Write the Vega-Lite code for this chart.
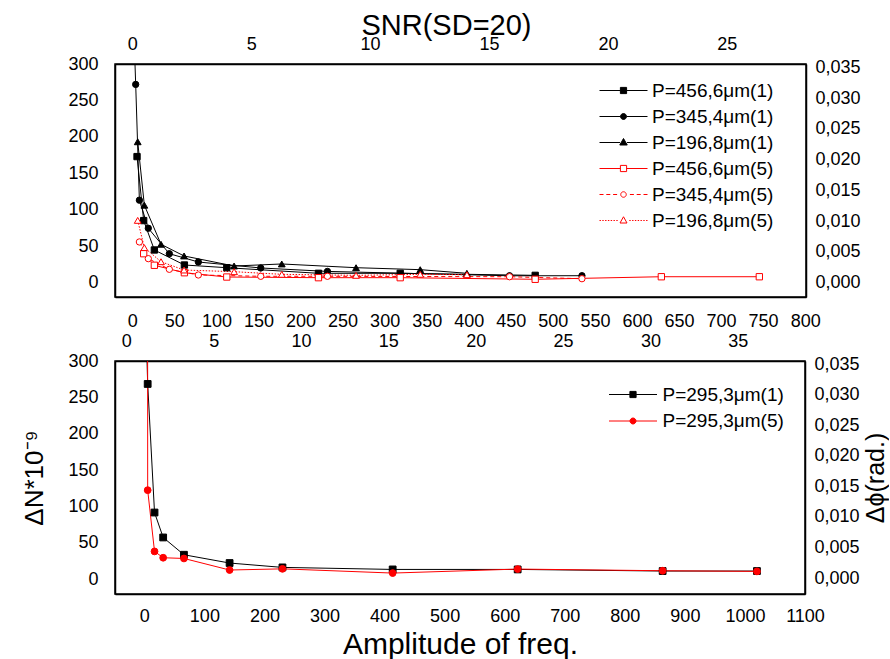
{
  "$schema": "https://vega.github.io/schema/vega-lite/v6.json",
  "background": "white",
  "padding": {"left": 20, "top": 10, "right": 0, "bottom": 0},
  "spacing": 64,
  "bounds": "flush",
  "datasets": {
    "top": [
      {"series": "P=456,6μm(1)", "amp": 5.6, "dn": 173},
      {"series": "P=456,6μm(1)", "amp": 13.5, "dn": 85.2},
      {"series": "P=456,6μm(1)", "amp": 26.2, "dn": 44.9},
      {"series": "P=456,6μm(1)", "amp": 61.9, "dn": 24.3},
      {"series": "P=456,6μm(1)", "amp": 112.3, "dn": 20.6},
      {"series": "P=456,6μm(1)", "amp": 221.3, "dn": 12.9},
      {"series": "P=456,6μm(1)", "amp": 318.5, "dn": 12.9},
      {"series": "P=456,6μm(1)", "amp": 479, "dn": 10.1},
      {"series": "P=345,4μm(1)", "amp": 2, "dn": 340},
      {"series": "P=345,4μm(1)", "amp": 4, "dn": 272},
      {"series": "P=345,4μm(1)", "amp": 8.4, "dn": 113.2},
      {"series": "P=345,4μm(1)", "amp": 19, "dn": 74.7},
      {"series": "P=345,4μm(1)", "amp": 44, "dn": 39.8},
      {"series": "P=345,4μm(1)", "amp": 78.5, "dn": 28.4},
      {"series": "P=345,4μm(1)", "amp": 152.7, "dn": 20.2},
      {"series": "P=345,4μm(1)", "amp": 232, "dn": 15.5},
      {"series": "P=345,4μm(1)", "amp": 448.5, "dn": 9.5},
      {"series": "P=345,4μm(1)", "amp": 534.6, "dn": 9.6},
      {"series": "P=196,8μm(1)", "amp": 6.4, "dn": 193.3},
      {"series": "P=196,8μm(1)", "amp": 14.3, "dn": 106.3},
      {"series": "P=196,8μm(1)", "amp": 34.1, "dn": 52.7},
      {"series": "P=196,8μm(1)", "amp": 61.5, "dn": 36.7},
      {"series": "P=196,8μm(1)", "amp": 121, "dn": 22.9},
      {"series": "P=196,8μm(1)", "amp": 177.7, "dn": 25.7},
      {"series": "P=196,8μm(1)", "amp": 266, "dn": 20.6},
      {"series": "P=196,8μm(1)", "amp": 342.3, "dn": 17.9},
      {"series": "P=196,8μm(1)", "amp": 397.8, "dn": 12.9},
      {"series": "P=456,6μm(5)", "amp": 13.5, "dn": 39.8},
      {"series": "P=456,6μm(5)", "amp": 26.2, "dn": 23.9},
      {"series": "P=456,6μm(5)", "amp": 61.9, "dn": 13.7},
      {"series": "P=456,6μm(5)", "amp": 112.3, "dn": 7.8},
      {"series": "P=456,6μm(5)", "amp": 221.3, "dn": 6.9},
      {"series": "P=456,6μm(5)", "amp": 318.5, "dn": 6.9},
      {"series": "P=456,6μm(5)", "amp": 479, "dn": 4.7},
      {"series": "P=456,6μm(5)", "amp": 629, "dn": 8.2},
      {"series": "P=456,6μm(5)", "amp": 745.5, "dn": 8.2},
      {"series": "P=345,4μm(5)", "amp": 8.4, "dn": 55.9},
      {"series": "P=345,4μm(5)", "amp": 19, "dn": 33},
      {"series": "P=345,4μm(5)", "amp": 44, "dn": 18.4},
      {"series": "P=345,4μm(5)", "amp": 78.5, "dn": 10.6},
      {"series": "P=345,4μm(5)", "amp": 152.7, "dn": 8.8},
      {"series": "P=345,4μm(5)", "amp": 232, "dn": 8.8},
      {"series": "P=345,4μm(5)", "amp": 448.5, "dn": 8.2},
      {"series": "P=345,4μm(5)", "amp": 534.6, "dn": 5.5},
      {"series": "P=196,8μm(5)", "amp": 6.4, "dn": 85.5},
      {"series": "P=196,8μm(5)", "amp": 14.3, "dn": 48.1},
      {"series": "P=196,8μm(5)", "amp": 34.1, "dn": 28.8},
      {"series": "P=196,8μm(5)", "amp": 61.5, "dn": 17.4},
      {"series": "P=196,8μm(5)", "amp": 121, "dn": 15.1},
      {"series": "P=196,8μm(5)", "amp": 177.7, "dn": 11.5},
      {"series": "P=196,8μm(5)", "amp": 266, "dn": 10.1},
      {"series": "P=196,8μm(5)", "amp": 342.3, "dn": 11.5},
      {"series": "P=196,8μm(5)", "amp": 397.8, "dn": 11}
    ],
    "bottom": [
      {"series": "P=295,3μm(1)", "amp": 3, "dn": 345},
      {"series": "P=295,3μm(1)", "amp": 5.6, "dn": 268.4},
      {"series": "P=295,3μm(1)", "amp": 17, "dn": 91.5},
      {"series": "P=295,3μm(1)", "amp": 31.4, "dn": 57.2},
      {"series": "P=295,3μm(1)", "amp": 66, "dn": 33.4},
      {"series": "P=295,3μm(1)", "amp": 142, "dn": 22},
      {"series": "P=295,3μm(1)", "amp": 230, "dn": 16},
      {"series": "P=295,3μm(1)", "amp": 413.5, "dn": 13.2},
      {"series": "P=295,3μm(1)", "amp": 621.6, "dn": 13.2},
      {"series": "P=295,3μm(1)", "amp": 863, "dn": 11},
      {"series": "P=295,3μm(1)", "amp": 1020, "dn": 11},
      {"series": "P=295,3μm(5)", "amp": 5.3, "dn": 800},
      {"series": "P=295,3μm(5)", "amp": 5.6, "dn": 122.3},
      {"series": "P=295,3μm(5)", "amp": 17, "dn": 38},
      {"series": "P=295,3μm(5)", "amp": 31.4, "dn": 29.3},
      {"series": "P=295,3μm(5)", "amp": 66, "dn": 28.3},
      {"series": "P=295,3μm(5)", "amp": 142, "dn": 12.4},
      {"series": "P=295,3μm(5)", "amp": 230, "dn": 14},
      {"series": "P=295,3μm(5)", "amp": 413.5, "dn": 8.2},
      {"series": "P=295,3μm(5)", "amp": 621.6, "dn": 13.7},
      {"series": "P=295,3μm(5)", "amp": 863, "dn": 11.4},
      {"series": "P=295,3μm(5)", "amp": 1020, "dn": 10.5}
    ],
    "axesTop": [{"snr": 0, "phi": 0}, {"snr": 25, "phi": 0.035}],
    "axesBottom": [{"snr": 0, "phi": 0}, {"snr": 35, "phi": 0.035}]
  },
  "vconcat": [
    {
      "width": 691,
      "height": 233,
      "layer": [
        {
          "data": {"name": "top"},
          "encoding": {
            "x": {"field": "amp", "type": "quantitative",
              "scale": {"domain": [-20.6, 801], "nice": false, "zero": false},
              "axis": {"orient": "bottom", "title": null, "format": "d",
                "values": [0,25,50,75,100,125,150,175,200,225,250,275,300,325,350,375,400,425,450,475,500,525,550,575,600,625,650,675,700,725,750,775,800],
                "labelExpr": "datum.value % 50 === 0 ? format(datum.value, 'd') : ''",
                "labelPadding": 15,
                "encode": {"ticks": {"y2": {"value": {"expr": "datum.value % 50 === 0 ? 10 : 6"}}}}}},
            "y": {"field": "dn", "type": "quantitative",
              "scale": {"domain": [-19.6, 300], "nice": false, "zero": false},
              "axis": {"orient": "left", "title": null, "format": "d",
                "values": [0,25,50,75,100,125,150,175,200,225,250,275,300],
                "labelExpr": "datum.value % 50 === 0 ? format(datum.value, 'd') : ''",
                "labelPadding": 17,
                "encode": {"ticks": {"x2": {"value": {"expr": "datum.value % 50 === 0 ? -10 : -5"}}}}}}
          },
          "layer": [
            {
              "transform": [{"filter": "datum.series !== 'P=345,4μm(5)' && datum.series !== 'P=196,8μm(5)'"}],
              "mark": {"type": "line", "clip": true, "strokeWidth": 1},
              "encoding": {
                "stroke": {"field": "series", "type": "nominal",
                  "scale": {"domain": ["P=456,6μm(1)","P=345,4μm(1)","P=196,8μm(1)","P=456,6μm(5)","P=345,4μm(5)","P=196,8μm(5)"],
                            "range": ["#000000","#000000","#000000","#ff0000","#ff0000","#ff0000"]},
                  "legend": {"orient": "none", "legendX": 485, "legendY": 17, "title": null, "padding": 0,
                    "symbolSize": 100, "symbolOffset": 14, "symbolStrokeWidth": 1, "symbolOpacity": 1,
                    "labelOffset": 19, "rowPadding": 6,
                    "labelFont": "Liberation Sans", "labelFontSize": 19, "labelColor": "#000000", "labelLimit": 300}}
              }
            },
            {
              "transform": [{"filter": "datum.series === 'P=345,4μm(5)'"}],
              "mark": {"type": "line", "clip": true, "strokeWidth": 1, "strokeDash": [4, 3]},
              "encoding": {"stroke": {"field": "series", "type": "nominal"}}
            },
            {
              "transform": [{"filter": "datum.series === 'P=196,8μm(5)'"}],
              "mark": {"type": "line", "clip": true, "strokeWidth": 1, "strokeDash": [1.5, 1.5]},
              "encoding": {"stroke": {"field": "series", "type": "nominal"}}
            },
            {
              "transform": [{"filter": "datum.series === 'P=456,6μm(1)' || datum.series === 'P=456,6μm(5)'"}],
              "mark": {"type": "point", "shape": "square", "size": 40, "clip": true, "opacity": 1, "strokeWidth": 1},
              "encoding": {
                "stroke": {"field": "series", "type": "nominal"},
                "fill": {"field": "series", "type": "nominal",
                  "scale": {"domain": ["P=456,6μm(1)","P=345,4μm(1)","P=196,8μm(1)","P=456,6μm(5)","P=345,4μm(5)","P=196,8μm(5)"],
                            "range": ["#000000","#000000","#000000","#ffffff","#ffffff","#ffffff"]}}
              }
            },
            {
              "transform": [{"filter": "datum.series === 'P=345,4μm(1)' || datum.series === 'P=345,4μm(5)'"}],
              "mark": {"type": "point", "shape": "circle", "size": 40, "clip": true, "opacity": 1, "strokeWidth": 1},
              "encoding": {
                "stroke": {"field": "series", "type": "nominal"},
                "fill": {"field": "series", "type": "nominal"}
              }
            },
            {
              "transform": [{"filter": "datum.series === 'P=196,8μm(1)' || datum.series === 'P=196,8μm(5)'"}],
              "mark": {"type": "point", "shape": "triangle-up", "size": 46, "clip": true, "opacity": 1, "strokeWidth": 1},
              "encoding": {
                "stroke": {"field": "series", "type": "nominal"},
                "fill": {"field": "series", "type": "nominal"}
              }
            },
            {
              "mark": {"type": "point", "opacity": 0, "clip": true},
              "encoding": {
                "shape": {"field": "series", "type": "nominal",
                  "scale": {"domain": ["P=456,6μm(1)","P=345,4μm(1)","P=196,8μm(1)","P=456,6μm(5)","P=345,4μm(5)","P=196,8μm(5)"],
                    "range": [
                      "M-4.8,0H-0.62M0.62,0H4.8M-0.62,-0.62H0.62V0.62H-0.62Z",
                      "M-4.8,0H-0.6M0.6,0H4.8M-0.6,0A0.6,0.6,0,1,0,0.6,0A0.6,0.6,0,1,0,-0.6,0Z",
                      "M-4.8,0H-0.7M0.7,0H4.8M0,-0.8L0.75,0.5L-0.75,0.5Z",
                      "M-4.8,0H-0.62M0.62,0H4.8M-0.62,-0.62H0.62V0.62H-0.62Z",
                      "M-4.8,0H-4M-3.44,0H-2.64M-2.08,0H-1.28M1.28,0H2.08M2.64,0H3.44M4,0H4.8M-0.55,0A0.55,0.55,0,1,0,0.55,0A0.55,0.55,0,1,0,-0.55,0Z",
                      "M-4.8,0H-4.52M-4.24,0H-3.96M-3.68,0H-3.4M-3.12,0H-2.84M-2.56,0H-2.28M-2,0H-1.72M-1.44,0H-1.16M1.16,0H1.44M1.72,0H2M2.28,0H2.56M2.84,0H3.12M3.4,0H3.68M3.96,0H4.24M4.52,0H4.8M0,-0.75L0.7,0.5L-0.7,0.5Z"
                    ]},
                  "legend": {"symbolOpacity": 1}}
              }
            }
          ]
        },
        {
          "data": {"name": "axesTop"},
          "mark": {"type": "point", "opacity": 0},
          "encoding": {
            "x": {"field": "snr", "type": "quantitative",
              "scale": {"domain": [-0.727, 28.33], "nice": false, "zero": false},
              "axis": {"orient": "top", "title": "SNR(SD=20)", "titleFontSize": 29,
                "titleX": 331, "titleY": -30, "titleAlign": "center", "titleBaseline": "alphabetic",
                "values": [0,2.5,5,7.5,10,12.5,15,17.5,20,22.5,25,27.5],
                "labelExpr": "datum.value % 5 === 0 ? format(datum.value, 'd') : ''",
                "labelPadding": 11,
                "encode": {"ticks": {"y2": {"value": {"expr": "datum.value % 5 === 0 ? 10 : 6"}}}}}},
            "y": {"field": "phi", "type": "quantitative",
              "scale": {"domain": [-0.00233, 0.03555], "nice": false, "zero": false},
              "axis": {"orient": "right", "title": null,
                "values": [0,0.0025,0.005,0.0075,0.01,0.0125,0.015,0.0175,0.02,0.0225,0.025,0.0275,0.03,0.0325,0.035],
                "labelExpr": "round(datum.value * 2000) % 10 === 0 ? replace(format(datum.value, '.3f'), '.', ',') : ''",
                "labelPadding": 9,
                "encode": {"ticks": {"x2": {"value": {"expr": "round(datum.value * 2000) % 10 === 0 ? -10 : -6"}}}}}}
          }
        }
      ],
      "resolve": {"scale": {"x": "independent", "y": "independent"}, "axis": {"x": "independent", "y": "independent"}}
    },
    {
      "width": 690,
      "height": 233,
      "layer": [
        {
          "data": {"name": "bottom"},
          "encoding": {
            "x": {"field": "amp", "type": "quantitative",
              "scale": {"domain": [-48.8, 1100], "nice": false, "zero": false},
              "axis": {"orient": "bottom", "title": "Amplitude of freq.", "titleFontSize": 30,
                "titleY": 59, "titleBaseline": "alphabetic",
                "values": [-50,0,50,100,150,200,250,300,350,400,450,500,550,600,650,700,750,800,850,900,950,1000,1050,1100],
                "labelExpr": "datum.value % 100 === 0 ? format(datum.value, 'd') : ''",
                "labelPadding": 13,
                "encode": {"ticks": {"y2": {"value": {"expr": "datum.value % 100 === 0 ? 10 : 6"}}}}}},
            "y": {"field": "dn", "type": "quantitative",
              "scale": {"domain": [-20.6, 300], "nice": false, "zero": false},
              "axis": {"orient": "left", "title": "ΔN*10⁻⁹", "titleFontSize": 26,
                "titleX": -81, "titleY": 116.5, "titleAngle": 270, "titleAlign": "center", "titleBaseline": "middle",
                "values": [0,25,50,75,100,125,150,175,200,225,250,275,300],
                "labelExpr": "datum.value % 50 === 0 ? format(datum.value, 'd') : ''",
                "labelPadding": 17,
                "encode": {"ticks": {"x2": {"value": {"expr": "datum.value % 50 === 0 ? -10 : -5"}}}}}}
          },
          "layer": [
            {
              "mark": {"type": "line", "clip": true, "strokeWidth": 1},
              "encoding": {
                "stroke": {"field": "series", "type": "nominal",
                  "scale": {"domain": ["P=295,3μm(1)","P=295,3μm(5)"], "range": ["#000000","#ff0000"]},
                  "legend": {"orient": "none", "legendX": 495, "legendY": 24, "title": null, "padding": 0,
                    "symbolSize": 100, "symbolOffset": 13.5, "symbolStrokeWidth": 1, "symbolOpacity": 1,
                    "labelOffset": 20, "rowPadding": 6.5,
                    "labelFont": "Liberation Sans", "labelFontSize": 19, "labelColor": "#000000", "labelLimit": 300}}
              }
            },
            {
              "transform": [{"filter": "datum.series === 'P=295,3μm(1)'"}],
              "mark": {"type": "point", "shape": "square", "size": 46, "clip": true, "opacity": 1, "strokeWidth": 1},
              "encoding": {
                "stroke": {"field": "series", "type": "nominal"},
                "fill": {"field": "series", "type": "nominal",
                  "scale": {"domain": ["P=295,3μm(1)","P=295,3μm(5)"], "range": ["#000000","#ff0000"]}}
              }
            },
            {
              "transform": [{"filter": "datum.series === 'P=295,3μm(5)'"}],
              "mark": {"type": "point", "shape": "circle", "size": 46, "clip": true, "opacity": 1, "strokeWidth": 1},
              "encoding": {
                "stroke": {"field": "series", "type": "nominal"},
                "fill": {"field": "series", "type": "nominal"}
              }
            },
            {
              "mark": {"type": "point", "opacity": 0, "clip": true},
              "encoding": {
                "shape": {"field": "series", "type": "nominal",
                  "scale": {"domain": ["P=295,3μm(1)","P=295,3μm(5)"],
                    "range": [
                      "M-4.8,0H-0.62M0.62,0H4.8M-0.62,-0.62H0.62V0.62H-0.62Z",
                      "M-4.8,0H-0.6M0.6,0H4.8M-0.6,0A0.6,0.6,0,1,0,0.6,0A0.6,0.6,0,1,0,-0.6,0Z"
                    ]},
                  "legend": {"symbolOpacity": 1}}
              }
            }
          ]
        },
        {
          "data": {"name": "axesBottom"},
          "mark": {"type": "point", "opacity": 0},
          "encoding": {
            "x": {"field": "snr", "type": "quantitative",
              "scale": {"domain": [-0.647, 38.85], "nice": false, "zero": false},
              "axis": {"orient": "top", "title": null,
                "values": [0,2.5,5,7.5,10,12.5,15,17.5,20,22.5,25,27.5,30,32.5,35,37.5],
                "labelExpr": "datum.value % 5 === 0 ? format(datum.value, 'd') : ''",
                "labelPadding": 11,
                "encode": {"ticks": {"y2": {"value": {"expr": "datum.value % 5 === 0 ? 10 : 6"}}}}}},
            "y": {"field": "phi", "type": "quantitative",
              "scale": {"domain": [-0.002617, 0.03554], "nice": false, "zero": false},
              "axis": {"orient": "right", "title": "Δϕ(rad.)", "titleFontSize": 25,
                "titleX": 70, "titleY": 116.5, "titleAngle": 270, "titleAlign": "center", "titleBaseline": "middle",
                "values": [0,0.0025,0.005,0.0075,0.01,0.0125,0.015,0.0175,0.02,0.0225,0.025,0.0275,0.03,0.0325,0.035],
                "labelExpr": "round(datum.value * 2000) % 10 === 0 ? replace(format(datum.value, '.3f'), '.', ',') : ''",
                "labelPadding": 9,
                "encode": {"ticks": {"x2": {"value": {"expr": "round(datum.value * 2000) % 10 === 0 ? -10 : -6"}}}}}}
          }
        }
      ],
      "resolve": {"scale": {"x": "independent", "y": "independent"}, "axis": {"x": "independent", "y": "independent"}}
    }
  ],
  "resolve": {
    "scale": {"x": "independent", "y": "independent", "stroke": "independent", "fill": "independent", "shape": "independent"},
    "legend": {"stroke": "independent", "fill": "independent", "shape": "independent"}
  },
  "config": {
    "view": {"stroke": "#000000", "strokeWidth": 1.5},
    "axis": {
      "domainColor": "#000000", "domainWidth": 1.5,
      "tickColor": "#000000", "tickWidth": 1.5, "tickSize": 0,
      "labelColor": "#000000", "labelFont": "Liberation Sans", "labelFontSize": 18,
      "titleFont": "Liberation Sans", "titleFontWeight": "normal", "titleColor": "#000000",
      "grid": false, "labelOverlap": false, "labelFlush": false, "labelBound": false
    }
  }
}
